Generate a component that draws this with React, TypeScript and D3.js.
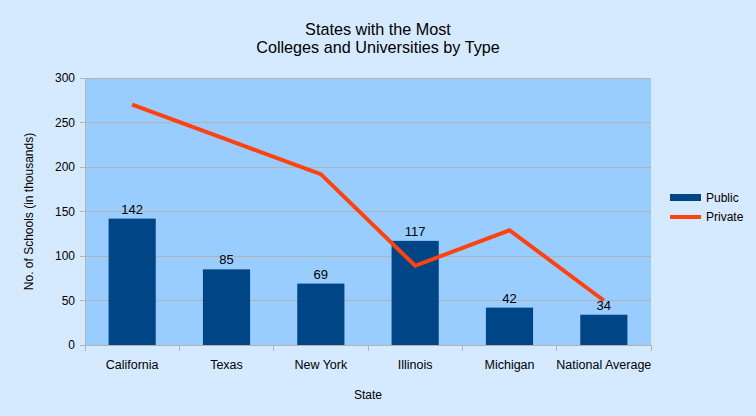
import React from "react";
import * as d3 from "d3";

const categories = ["California", "Texas", "New York", "Illinois", "Michigan", "National Average"];
const publicValues = [142, 85, 69, 117, 42, 34];
const privateValues = [270, 231, 192, 89, 129, 50];
const yTicks = [0, 50, 100, 150, 200, 250, 300];
const titleLines = ["States with the Most", "Colleges and Universities by Type"];
const seriesNames = ["Public", "Private"];

const W = 756, H = 416;
const plot = { left: 85, right: 651, top: 78, bottom: 345 };
const font = "'Liberation Sans', Arial, sans-serif";

export default function App() {
  const x = d3.scaleBand<string>().domain(categories).range([plot.left, plot.right]).paddingInner(0).paddingOuter(0);
  const y = d3.scaleLinear().domain([0, 300]).range([plot.bottom, plot.top]);
  const bw = x.bandwidth();
  const line = d3.line<number>()
    .x((_, i) => (x(categories[i]) as number) + bw / 2)
    .y((d) => y(d));
  const grid = "#b3b3b3";
  return (
    <svg width={W} height={H} style={{ position: "absolute", left: 0, top: 0 }} fontFamily={font}>
      <rect x={0} y={0} width={W} height={H} fill="#d6eaff" />
      <rect x={plot.left} y={plot.top} width={plot.right - plot.left} height={plot.bottom - plot.top} fill="#99ccff" />
      {yTicks.map((t) => (
        <g key={t}>
          <line x1={plot.left - 5} x2={plot.right} y1={y(t)} y2={y(t)} stroke={grid} strokeWidth={1} shapeRendering="crispEdges" />
          <text x={75} y={y(t)} dy="0.35em" textAnchor="end" fontSize={12} fill="#000">{t}</text>
        </g>
      ))}
      <line x1={plot.left} x2={plot.left} y1={plot.top} y2={plot.bottom} stroke={grid} shapeRendering="crispEdges" />
      {categories.map((c, i) => (
        <line key={"tk" + i} x1={x(c) as number} x2={x(c) as number} y1={plot.bottom} y2={plot.bottom + 6} stroke={grid} shapeRendering="crispEdges" />
      ))}
      <line x1={plot.right} x2={plot.right} y1={plot.bottom} y2={plot.bottom + 6} stroke={grid} shapeRendering="crispEdges" />
      {categories.map((c, i) => (
        <rect key={"b" + i} x={(x(c) as number) + bw / 4} y={y(publicValues[i])} width={bw / 2} height={plot.bottom - y(publicValues[i])} fill="#004586" />
      ))}
      <line x1={plot.left} x2={plot.right} y1={plot.bottom} y2={plot.bottom} stroke={grid} shapeRendering="crispEdges" />
      <path d={line(privateValues) || ""} fill="none" stroke="#ff420e" strokeWidth={4} strokeLinejoin="miter" />
      {categories.map((c, i) => (
        <text key={"l" + i} x={(x(c) as number) + bw / 2} y={y(publicValues[i]) - 5} textAnchor="middle" fontSize={13} fill="#000">{publicValues[i]}</text>
      ))}
      {categories.map((c, i) => (
        <text key={"c" + i} x={(x(c) as number) + bw / 2} y={365} dy="0.35em" textAnchor="middle" fontSize={12.5} fill="#000">{c}</text>
      ))}
      <text x={(plot.left + plot.right) / 2} y={395} dy="0.35em" textAnchor="middle" fontSize={12}>State</text>
      <text transform={`translate(29,${(plot.top + plot.bottom) / 2}) rotate(-90)`} dy="0.35em" textAnchor="middle" fontSize={12}>No. of Schools (in thousands)</text>
      {titleLines.map((t, i) => (
        <text key={"t" + i} x={378} y={29 + i * 18} dy="0.35em" textAnchor="middle" fontSize={16.2}>{t}</text>
      ))}
      <rect x={670} y={194} width={31} height={7} fill="#004586" />
      <text x={706} y={198} dy="0.35em" fontSize={12}>{seriesNames[0]}</text>
      <rect x={670} y={215} width={31} height={4} fill="#ff420e" />
      <text x={706} y={217} dy="0.35em" fontSize={12}>{seriesNames[1]}</text>
    </svg>
  );
}
